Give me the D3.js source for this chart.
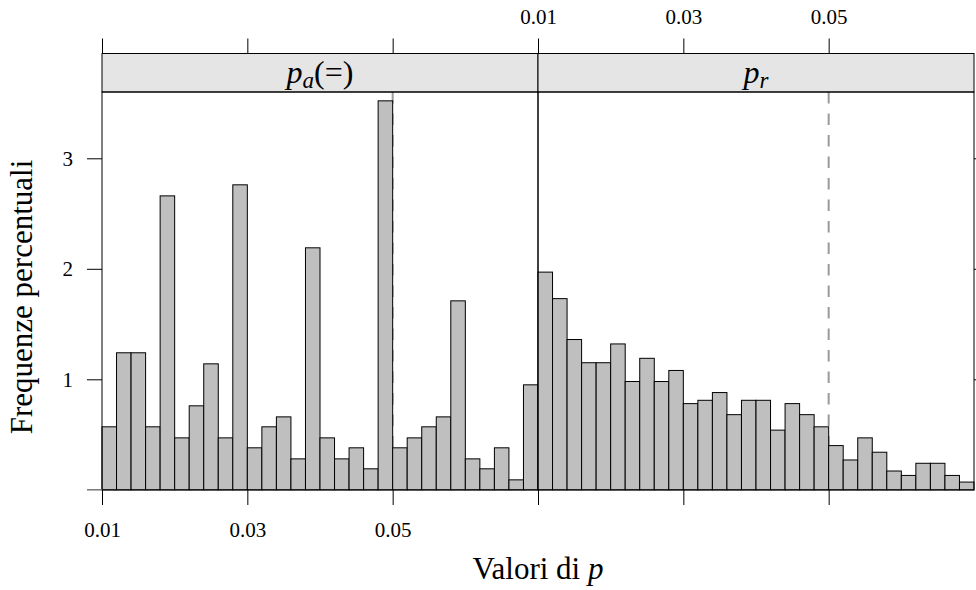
<!DOCTYPE html>
<html>
<head>
<meta charset="utf-8">
<script src="https://cdn.jsdelivr.net/npm/d3@7"></script>
<style>
  html, body { margin: 0; padding: 0; background: #fff; }
  svg { display: block; }
  svg text { font-family: "Liberation Serif", serif; fill: #000; }
</style>
</head>
<body>
<svg id="chart" width="976" height="590"></svg>
<script>
// Histogram bin edges: 0.01 to 0.07 in steps of 0.002 (30 bins per panel)
const binStart = 0.01;
const binWidth = 0.002;

// Panel names
const panels = ["p_a(=)", "p_r"];

// Percent frequency per bin, panel p_a(=)
const freqPa = [0.57, 1.24, 1.24, 0.57, 2.66, 0.47, 0.76, 1.14, 0.47, 2.76,
                0.38, 0.57, 0.66, 0.28, 2.19, 0.47, 0.28, 0.38, 0.19, 3.52,
                0.38, 0.47, 0.57, 0.66, 1.71, 0.28, 0.19, 0.38, 0.09, 0.95];

// Percent frequency per bin, panel p_r
const freqPr = [1.97, 1.73, 1.36, 1.15, 1.15, 1.32, 0.98, 1.19, 0.98, 1.08,
                0.78, 0.81, 0.88, 0.68, 0.81, 0.81, 0.54, 0.78, 0.68, 0.57,
                0.40, 0.27, 0.47, 0.34, 0.17, 0.13, 0.24, 0.24, 0.13, 0.07];

// Axis ticks
const xTicks = [0.01, 0.03, 0.05];
const yTicks = [1, 2, 3];
const refLine = 0.05;

const FONT = "'Liberation Serif', serif";
const svg = d3.select("#chart");

const panelTop = 92, panelBottom = 490, stripTop = 53.5;
const panelX = [[102, 538], [538, 974]];

const y = d3.scaleLinear().domain([0, 3.6]).range([489.8, panelTop]);

const seriesList = [freqPa, freqPr];

seriesList.forEach((vals, i) => {
  const [x0, x1] = panelX[i];
  const x = d3.scaleLinear().domain([0.01, 0.07]).range([x0, x1]);
  const g = svg.append("g");

  // dashed reference line at p = 0.05
  g.append("line")
    .attr("x1", x(refLine)).attr("x2", x(refLine))
    .attr("y1", panelTop).attr("y2", panelBottom)
    .attr("stroke", "#9a9a9a").attr("stroke-width", 2)
    .attr("stroke-dasharray", "11.5,10");

  // histogram bars
  const bins = vals.map((v, k) => ({ lo: binStart + k * binWidth, hi: binStart + (k + 1) * binWidth, v }));
  g.selectAll("rect.bar").data(bins).join("rect")
    .attr("class", "bar")
    .attr("x", d => x(d.lo))
    .attr("width", d => x(d.hi) - x(d.lo))
    .attr("y", d => y(d.v))
    .attr("height", d => y(0) - y(d.v))
    .attr("fill", "#bfbfbf")
    .attr("stroke", "#000")
    .attr("stroke-width", 1);

  // x axes: bottom labelled on the first panel, top labelled on the second
  const bottom = d3.axisBottom(x).tickValues(xTicks).tickSize(15).tickPadding(17)
    .tickFormat(i === 0 ? d3.format(".2f") : () => "");
  const top = d3.axisTop(x).tickValues(xTicks).tickSize(15).tickPadding(15)
    .tickFormat(i === 1 ? d3.format(".2f") : () => "");

  const gb = g.append("g").attr("transform", `translate(0,${panelBottom})`).call(bottom);
  const gt = g.append("g").attr("transform", `translate(0,${stripTop})`).call(top);
  [gb, gt].forEach(a => {
    a.select(".domain").remove();
    a.selectAll("line").attr("stroke", "#000").attr("stroke-width", 1);
    a.selectAll("text").attr("font-family", FONT).attr("font-size", 21);
  });

  // strip
  g.append("rect")
    .attr("x", x0).attr("y", stripTop).attr("width", x1 - x0).attr("height", panelTop - stripTop)
    .attr("fill", "#e5e5e5").attr("stroke", "#000").attr("stroke-width", 1);

  const st = g.append("text")
    .attr("x", (x0 + x1) / 2).attr("y", 83)
    .attr("text-anchor", "middle")
    .attr("font-family", FONT)
    .attr("font-size", 32);
  if (i === 0) {
    st.append("tspan").attr("font-style", "italic").text("p");
    st.append("tspan").attr("font-style", "italic").attr("font-size", 23).attr("dy", 5).text("a");
    st.append("tspan").attr("dy", -5).text("(=)");
  } else {
    st.append("tspan").attr("font-style", "italic").text("p");
    st.append("tspan").attr("font-style", "italic").attr("font-size", 23).attr("dy", 5).text("r");
  }

  // panel border
  g.append("rect")
    .attr("x", x0).attr("y", panelTop).attr("width", x1 - x0).attr("height", panelBottom - panelTop)
    .attr("fill", "none").attr("stroke", "#000").attr("stroke-width", 1);
});

// y axes: labelled on the left, ticks only on the right
const yl = d3.axisLeft(y).tickValues(yTicks).tickSize(15).tickPadding(14).tickFormat(d3.format("d"));
const gyl = svg.append("g").attr("transform", `translate(${panelX[0][0]},0)`).call(yl);
const yr = d3.axisRight(y).tickValues(yTicks).tickSize(15).tickFormat(() => "");
const gyr = svg.append("g").attr("transform", `translate(${panelX[1][1]},0)`).call(yr);
[gyl, gyr].forEach(a => {
  a.select(".domain").remove();
  a.selectAll("line").attr("stroke", "#000").attr("stroke-width", 1);
  a.selectAll("text").attr("font-family", FONT).attr("font-size", 21);
});

// short baseline stub at zero
svg.append("line")
  .attr("x1", 87).attr("x2", panelX[0][0]).attr("y1", y(0)).attr("y2", y(0))
  .attr("stroke", "#777").attr("stroke-width", 1.5);

// axis titles
const xt = svg.append("text")
  .attr("x", 538).attr("y", 579)
  .attr("text-anchor", "middle")
  .attr("font-family", FONT)
  .attr("font-size", 31);
xt.append("tspan").text("Valori di ");
xt.append("tspan").attr("font-style", "italic").text("p");

svg.append("text")
  .attr("transform", "translate(32,297) rotate(-90)")
  .attr("text-anchor", "middle")
  .attr("font-family", FONT)
  .attr("font-size", 31)
  .text("Frequenze percentuali");
</script>
</body>
</html>
